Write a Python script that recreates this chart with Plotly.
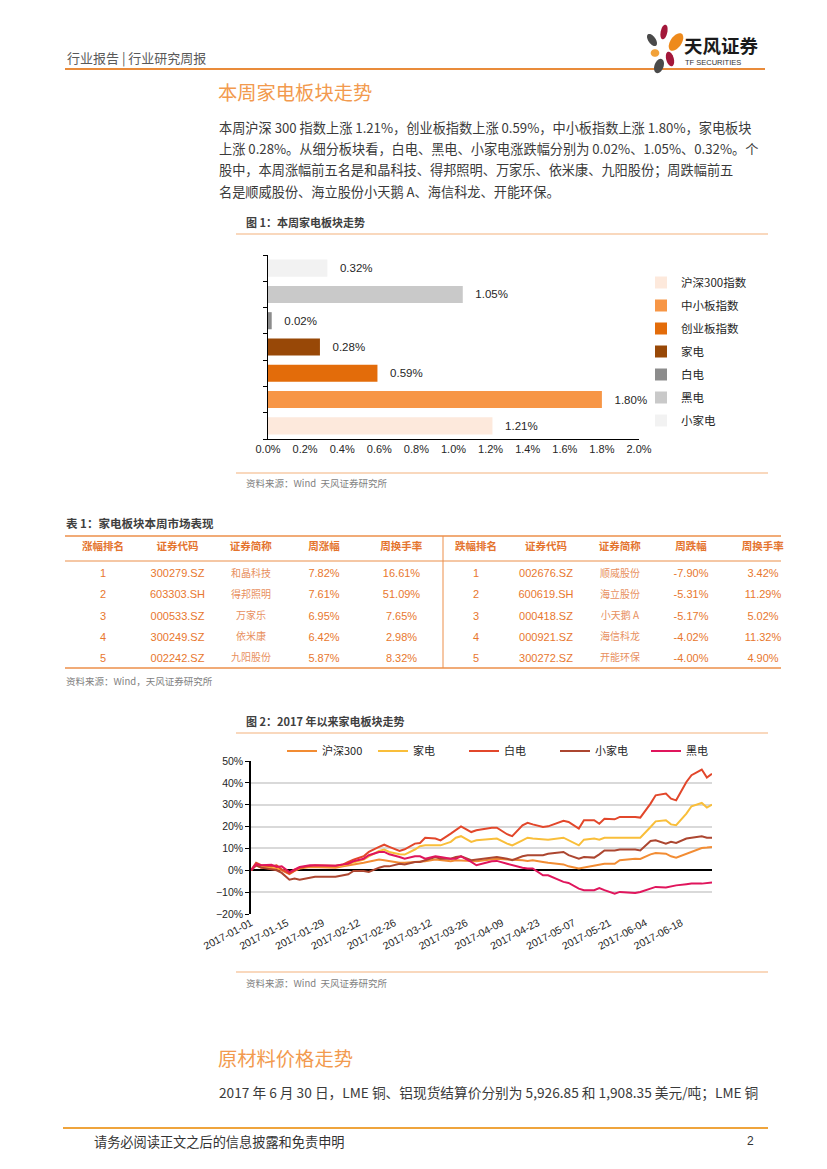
import math
import plotly.graph_objects as go

W, H = 827, 1169
def px(x): return x / W
def py(y): return 1 - y / H

CJK = "Noto Sans CJK SC"
LAT = "Liberation Sans, Noto Sans CJK SC"
ORANGE = "#E8772E"

# ---------------- data: figure 1 ----------------
bar_categories = ["沪深300指数", "中小板指数", "创业板指数", "家电", "白电", "黑电", "小家电"]
bar_values = [1.21, 1.80, 0.59, 0.28, 0.02, 1.05, 0.32]
bar_colors = ["#FDE9DC", "#F79646", "#E36C0A", "#984807", "#8C8C8C", "#C9C9C9", "#F2F2F2"]
bar_tick_step = 0.2
bar_range = [0, 2.0]

# ---------------- data: table 1 ----------------
table_header = ["涨幅排名", "证券代码", "证券简称", "周涨幅", "周换手率",
                "跌幅排名", "证券代码", "证券简称", "周跌幅", "周换手率"]
up_rank = ["1", "2", "3", "4", "5"]
up_code = ["300279.SZ", "603303.SH", "000533.SZ", "300249.SZ", "002242.SZ"]
up_name = ["和晶科技", "得邦照明", "万家乐", "依米康", "九阳股份"]
up_chg = ["7.82%", "7.61%", "6.95%", "6.42%", "5.87%"]
up_turn = ["16.61%", "51.09%", "7.65%", "2.98%", "8.32%"]
down_rank = ["1", "2", "3", "4", "5"]
down_code = ["002676.SZ", "600619.SH", "000418.SZ", "000921.SZ", "300272.SZ"]
down_name = ["顺威股份", "海立股份", "小天鹅 A", "海信科龙", "开能环保"]
down_chg = ["-7.90%", "-5.31%", "-5.17%", "-4.02%", "-4.00%"]
down_turn = ["3.42%", "11.29%", "5.02%", "11.32%", "4.90%"]

# ---------------- data: figure 2 ----------------
dates = ["2017-01-01", "2017-01-03", "2017-01-05", "2017-01-09", "2017-01-11", "2017-01-13",
         "2017-01-16", "2017-01-18", "2017-01-20", "2017-01-24", "2017-01-26",
         "2017-02-03", "2017-02-06", "2017-02-08", "2017-02-10", "2017-02-14", "2017-02-16",
         "2017-02-20", "2017-02-22", "2017-02-24", "2017-02-28",
         "2017-03-02", "2017-03-06", "2017-03-08", "2017-03-10", "2017-03-14", "2017-03-16",
         "2017-03-20", "2017-03-22", "2017-03-24", "2017-03-28", "2017-03-30",
         "2017-04-05", "2017-04-07", "2017-04-11", "2017-04-13", "2017-04-17", "2017-04-19",
         "2017-04-21", "2017-04-25", "2017-04-27",
         "2017-05-03", "2017-05-05", "2017-05-09", "2017-05-11", "2017-05-15", "2017-05-17",
         "2017-05-19", "2017-05-23", "2017-05-25", "2017-05-31",
         "2017-06-02", "2017-06-06", "2017-06-08", "2017-06-12", "2017-06-14", "2017-06-16",
         "2017-06-20", "2017-06-22", "2017-06-26", "2017-06-28", "2017-06-30"]
hs300 = [0, 2.3, 1.2, 0.8, 0.8, 0.0, -1.8, -0.3, 0.8, 1.5, 1.5,
         1.2, 1.8, 2.1, 2.6, 3.4, 3.8, 4.9, 4.6, 4.1, 3.4,
         3.4, 3.8, 4.1, 4.1, 4.9, 4.6, 4.1, 4.6, 4.6, 4.3, 4.1,
         5.0, 5.3, 4.9, 4.9, 4.6, 4.3, 4.6, 3.8, 3.4,
         2.7, 1.8, 0.8, 1.2, 2.3, 2.7, 3.0, 3.0, 4.6, 5.3,
         5.2, 7.3, 7.9, 7.6, 6.4, 5.8, 7.6, 8.4, 10.2, 10.4, 10.7]
jiadian = [0, 3.0, 1.8, 1.5, 1.5, 0.3, -1.2, 0.3, 1.2, 2.0, 2.0,
           1.8, 2.3, 3.0, 3.8, 4.9, 6.4, 8.8, 9.5, 8.4, 7.3,
           7.2, 9.5, 11.0, 11.4, 11.4, 11.4, 13.0, 14.9, 15.6, 13.0, 13.7,
           14.5, 14.5, 12.2, 11.4, 13.7, 14.9, 14.5, 14.0, 14.0,
           14.9, 13.7, 11.4, 14.0, 14.5, 14.0, 14.9, 14.9, 14.9, 15.2,
           14.9, 19.8, 22.4, 22.9, 21.0, 20.6, 25.9, 29.3, 30.8, 28.7, 30.0]
baidian = [0, 3.4, 2.3, 1.8, 2.3, 0.3, -1.5, 0.0, 1.2, 2.0, 2.3,
           2.1, 2.7, 3.8, 4.9, 6.4, 8.4, 10.7, 11.7, 10.7, 8.8,
           9.6, 12.2, 12.5, 14.9, 14.5, 13.7, 16.8, 18.3, 20.1, 17.5, 18.3,
           19.5, 19.5, 16.5, 15.6, 20.6, 21.7, 21.0, 19.8, 20.1,
           22.6, 22.1, 19.1, 22.9, 22.9, 21.3, 23.6, 23.3, 24.4, 24.4,
           24.1, 30.5, 34.3, 35.1, 32.8, 32.0, 40.4, 43.5, 46.1, 42.4, 44.2]
xiaojiadian = [0, 2.3, 1.2, 0.3, 0.0, -1.2, -4.3, -3.8, -4.3, -3.4, -3.0,
               -3.0, -2.3, -1.8, -0.3, -0.3, -0.8, 1.2, 1.8, 1.8, 3.0,
               2.7, 3.8, 3.8, 4.6, 6.1, 5.3, 5.3, 6.1, 6.4, 4.6, 4.9,
               6.1, 6.1, 5.3, 4.6, 6.4, 6.9, 6.9, 6.9, 7.6,
               8.4, 6.9, 5.3, 6.1, 5.8, 7.3, 9.1, 9.1, 9.5, 9.5,
               9.1, 13.4, 13.7, 12.2, 13.0, 12.5, 14.5, 14.9, 15.6, 14.9, 14.9]
heidian = [0, 2.7, 2.3, 2.5, 1.5, 1.8, -0.8, 0.5, 1.5, 2.3, 2.3,
           2.1, 2.7, 3.0, 4.1, 5.3, 6.9, 8.4, 8.4, 7.3, 6.1,
           5.3, 6.4, 6.4, 5.3, 6.4, 6.1, 5.3, 5.3, 6.4, 3.8, 2.3,
           4.1, 4.3, 3.0, 2.3, 1.2, 0.8, 0.8, -2.3, -2.3,
           -5.3, -5.8, -8.4, -9.1, -9.1, -8.1, -9.1, -10.7, -9.9, -10.4,
           -9.9, -8.4, -7.6, -7.9, -7.3, -6.9, -6.4, -6.1, -6.1, -5.8, -5.6]
line_names = ["沪深300", "家电", "白电", "小家电", "黑电"]
line_series = [hs300, jiadian, baidian, xiaojiadian, heidian]
line_colors = ["#F28C33", "#F9BE3A", "#E2472B", "#AC4630", "#E0155C"]
line_yrange = [-20, 50]
line_ystep = 10

fig = go.Figure()

# ---- figure 1 bars ----
for cat, val, col in zip(bar_categories, bar_values, bar_colors):
    fig.add_trace(go.Bar(
        y=[cat], x=[val], orientation="h", name=cat, marker=dict(color=col, line=dict(width=0)),
        texttemplate="   %{x:.2f}%", textposition="outside", cliponaxis=False,
        textfont=dict(family=LAT, size=11.5, color="#262626"),
        legendgroup=cat, legend="legend", xaxis="x", yaxis="y", hoverinfo="skip"))

# ---- figure 2 lines ----
for name, ser, col in zip(line_names, line_series, line_colors):
    fig.add_trace(go.Scatter(
        x=dates, y=ser, mode="lines", name=name, line=dict(color=col, width=2),
        legend="legend2", xaxis="x2", yaxis="y2", hoverinfo="skip"))

# ---- table 1 ----
hdr = ["<b>%s</b>" % h for h in table_header]
fig.add_trace(go.Table(
    domain=dict(x=[px(65), px(801)], y=[py(685), py(530)]),
    columnwidth=[76, 73, 74, 72, 83, 66, 74, 74, 68, 76],
    header=dict(values=hdr, height=20, align="center", fill_color="rgba(0,0,0,0)",
                line=dict(color="rgba(0,0,0,0)", width=0),
                font=dict(family=CJK, size=10.5, color="#E4742E")),
    cells=dict(values=[up_rank, up_code, up_name, up_chg, up_turn,
                       down_rank, down_code, down_name, down_chg, down_turn],
               height=21.2, align="center", fill_color="rgba(0,0,0,0)",
               line=dict(color="rgba(0,0,0,0)", width=0),
               font=dict(family=[LAT, LAT, CJK, LAT, LAT, LAT, LAT, CJK, LAT, LAT],
                         size=[11, 11, 10, 11, 11, 11, 11, 10, 11, 11],
                         color=[ORANGE, ORANGE, "#E89060", ORANGE, ORANGE,
                                ORANGE, ORANGE, "#E89060", ORANGE, ORANGE]))))

shapes = []
def hline(y, x0, x1, color, w):
    shapes.append(dict(type="line", xref="paper", yref="paper", x0=px(x0), x1=px(x1),
                       y0=py(y), y1=py(y), line=dict(color=color, width=w)))

hline(69, 65, 765, "#E98B3A", 2)
hline(234, 236, 768, "#F3B27C", 1.2)
hline(473, 236, 768, "#F3B27C", 1.2)
hline(536, 65, 781, "#EC8F4A", 1.5)
hline(561, 65, 781, "#EC8F4A", 1.2)
hline(668, 65, 781, "#EC8F4A", 1.5)
shapes.append(dict(type="line", xref="paper", yref="paper", x0=px(443), x1=px(443),
                   y0=py(536), y1=py(668), line=dict(color="#EC8F4A", width=1)))
hline(733, 236, 768, "#F3B27C", 1.2)
hline(972, 236, 768, "#F3B27C", 1.2)
hline(1128, 63, 768, "#EFA43C", 2)

# logo petals
def petal(cx, cy, rx, ry, ang, color):
    a = math.radians(ang)
    pts = []
    for i in range(32):
        t = 2 * math.pi * i / 32
        ex, ey = rx * math.cos(t), ry * math.sin(t)
        x = cx + ex * math.cos(a) - ey * math.sin(a)
        y = cy + ex * math.sin(a) + ey * math.cos(a)
        pts.append("%.5f,%.5f" % (px(x), py(y)))
    path = "M" + " L".join(pts) + " Z"
    shapes.append(dict(type="path", xref="paper", yref="paper", path=path,
                       fillcolor=color, line=dict(width=0)))

petal(652, 40, 3.6, 7, -35, "#4A4A4A")
petal(664, 32, 3.3, 7.5, 12, "#A3173A")
petal(676, 42, 5.5, 10, 35, "#EE8A1C")
petal(655, 53, 4.3, 3.8, 0, "#F2A23A")
petal(670, 59, 3.8, 7.5, -15, "#A3173A")
petal(659, 66, 4.5, 7.5, 20, "#4A4A4A")

annotations = []
def txt(x, y, s, size, color, family=CJK, anchor="left"):
    annotations.append(dict(x=px(x), y=py(y), xref="paper", yref="paper", text=s,
                            showarrow=False, xanchor=anchor, yanchor="middle",
                            font=dict(size=size, color=color, family=family)))

txt(65, 57, "行业报告 | 行业研究周报", 13, "#595959")
txt(682, 45, "<b>天风证券</b>", 18.5, "#1a1a1a")
txt(683, 63, "TF SECURITIES", 7.5, "#333333", LAT)
txt(216, 92, "本周家电板块走势", 19.3, "#F29A4E")
para = ["本周沪深 300 指数上涨 1.21%，创业板指数上涨 0.59%，中小板指数上涨 1.80%，家电板块",
        "上涨 0.28%。从细分板块看，白电、黑电、小家电涨跌幅分别为 0.02%、1.05%、0.32%。个",
        "股中，本周涨幅前五名是和晶科技、得邦照明、万家乐、依米康、九阳股份；周跌幅前五",
        "名是顺威股份、海立股份小天鹅 A、海信科龙、开能环保。"]
for i, line in enumerate(para):
    txt(217, 127 + i * 21.5, line, 13.2, "#3a3a3a")
txt(244, 222, "<b>图 1：本周家电板块走势</b>", 11, "#404040")
txt(244, 483, "资料来源：Wind  天风证券研究所", 9.5, "#7f7f7f")
txt(64, 523, "<b>表 1：家电板块本周市场表现</b>", 11.5, "#404040")
txt(64, 681, "资料来源：Wind，天风证券研究所", 9.5, "#7f7f7f")
txt(244, 721, "<b>图 2：2017 年以来家电板块走势</b>", 11, "#404040")
txt(244, 983, "资料来源：Wind  天风证券研究所", 9.5, "#7f7f7f")
txt(216, 1058, "原材料价格走势", 19.3, "#F29A4E")
txt(217, 1092, "2017 年 6 月 30 日，LME 铜、铝现货结算价分别为 5,926.85 和 1,908.35 美元/吨；LME 铜",
    13.7, "#3a3a3a")
txt(92, 1141, "请务必阅读正文之后的信息披露和免责申明", 13.2, "#333333")
txt(756, 1141, "2", 12, "#333333", LAT, "right")

fig.update_layout(
    width=W, height=H, margin=dict(l=0, r=0, t=0, b=0, autoexpand=False),
    paper_bgcolor="white", plot_bgcolor="rgba(0,0,0,0)",
    barmode="overlay", bargap=0.35, showlegend=True,
    xaxis=dict(domain=[px(268), px(639)], range=bar_range, tick0=0, dtick=bar_tick_step,
               tickformat=".1f", ticksuffix="%", showline=True, linecolor="#000000",
               linewidth=1, ticks="", showgrid=False, zeroline=False, anchor="y",
               automargin=False,
               tickfont=dict(family=LAT, size=11, color="#262626")),
    yaxis=dict(domain=[py(439), py(255)], type="category", categoryorder="array",
               categoryarray=bar_categories, showticklabels=False, ticks="outside",
               ticklen=4, tickcolor="#000000", tickson="boundaries", showline=True,
               linecolor="#000000", linewidth=1, showgrid=False, anchor="x",
               automargin=False),
    xaxis2=dict(domain=[px(251), px(712)], type="date",
                range=["2017-01-01", "2017-06-30"], tick0="2017-01-01",
                dtick=14 * 86400000, tickformat="%Y-%m-%d", tickangle=-28,
                showgrid=False, showline=False, zeroline=False, ticks="", anchor="y2",
                automargin=False,
                tickfont=dict(family=LAT, size=10.5, color="#262626")),
    yaxis2=dict(domain=[py(914), py(761)], range=line_yrange, tick0=0, dtick=line_ystep,
                ticksuffix="%", showgrid=True, gridcolor="#D9D9D9", gridwidth=1.5,
                zeroline=True, zerolinecolor="#000000", zerolinewidth=1.5,
                showline=True, linecolor="#000000", linewidth=1.5, ticks="outside",
                ticklen=4, tickcolor="#000000", anchor="x2", automargin=False,
                tickfont=dict(family=LAT, size=10.5, color="#262626")),
    legend=dict(x=px(641), y=py(351.5), xanchor="left", yanchor="middle",
                bgcolor="rgba(0,0,0,0)", tracegroupgap=4, traceorder="grouped",
                font=dict(family=CJK, size=11.5, color="#262626")),
    legend2=dict(x=px(282), y=py(751), xanchor="left", yanchor="middle",
                 orientation="h", bgcolor="rgba(0,0,0,0)", entrywidth=46,
                 font=dict(family=CJK, size=11, color="#262626")),
    shapes=shapes, annotations=annotations,
)

fig.write_html("out.html", config={"displayModeBar": False},
               post_script="document.body.style.margin='0px';")
